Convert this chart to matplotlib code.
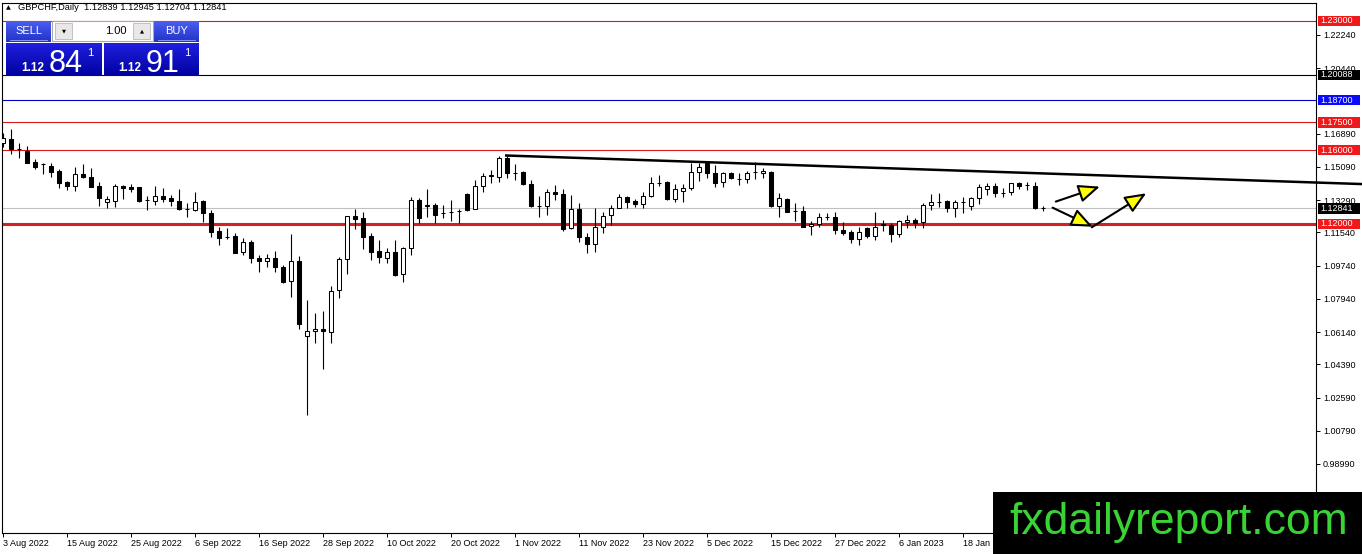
import numpy as np
import matplotlib
matplotlib.use("Agg")
import matplotlib.pyplot as plt
from matplotlib import transforms
from matplotlib.patches import Rectangle, FancyArrowPatch
from matplotlib.colors import LinearSegmentedColormap

plt.rcParams['font.family'] = ['Liberation Sans', 'DejaVu Sans']

# daily candles, GBPCHF
opens = [1.1638, 1.1660, 1.1606, 1.1595, 1.1536, 1.1525, 1.1514, 1.1487, 1.1427, 1.1406,
         1.1471, 1.1454, 1.1406, 1.1319, 1.1325, 1.1406, 1.1400, 1.1400, 1.1330, 1.1325,
         1.1352, 1.1341, 1.1325, 1.1281, 1.1276, 1.1325, 1.1259, 1.1162, 1.1129, 1.1135,
         1.1048, 1.1102, 1.1015, 1.0999, 1.1015, 1.0966, 1.0891, 1.0999, 1.0593, 1.0620,
         1.0631, 1.0614, 1.0842, 1.1010, 1.1243, 1.1232, 1.1135, 1.1053, 1.1015, 1.1048,
         1.0929, 1.1070, 1.1330, 1.1297, 1.1303, 1.1259, 1.1265, 1.1270, 1.1362, 1.1281,
         1.1406, 1.1460, 1.1454, 1.1557, 1.1476, 1.1481, 1.1417, 1.1297, 1.1297, 1.1373,
         1.1362, 1.1178, 1.1281, 1.1129, 1.1091, 1.1184, 1.1249, 1.1286, 1.1346, 1.1325,
         1.1308, 1.1352, 1.1422, 1.1427, 1.1335, 1.1379, 1.1395, 1.1481, 1.1530, 1.1476,
         1.1427, 1.1476, 1.1444, 1.1444, 1.1481, 1.1476, 1.1481, 1.1297, 1.1335, 1.1270,
         1.1270, 1.1189, 1.1200, 1.1238, 1.1238, 1.1167, 1.1157, 1.1118, 1.1178, 1.1135,
         1.1194, 1.1194, 1.1146, 1.1211, 1.1221, 1.1211, 1.1303, 1.1319, 1.1325, 1.1286,
         1.1319, 1.1297, 1.1341, 1.1390, 1.1406, 1.1368, 1.1373, 1.1422, 1.1411, 1.1406,
         1.12839]
highs = [1.1693, 1.1715, 1.1638, 1.1622, 1.1552, 1.1530, 1.1530, 1.1498, 1.1430, 1.1509,
         1.1525, 1.1503, 1.1427, 1.1352, 1.1417, 1.1411, 1.1417, 1.1402, 1.1352, 1.1406,
         1.1395, 1.1357, 1.1390, 1.1314, 1.1373, 1.1327, 1.1276, 1.1184, 1.1178, 1.1151,
         1.1124, 1.1113, 1.1032, 1.1037, 1.1053, 1.0977, 1.1146, 1.1026, 1.0788, 1.0717,
         1.0728, 1.0864, 1.1021, 1.1245, 1.1281, 1.1265, 1.1151, 1.1113, 1.1070, 1.1113,
         1.1075, 1.1346, 1.1341, 1.1390, 1.1314, 1.1303, 1.1330, 1.1281, 1.1365, 1.1438,
         1.1476, 1.1492, 1.1568, 1.1568, 1.1525, 1.1487, 1.1438, 1.1352, 1.1390, 1.1411,
         1.1390, 1.1357, 1.1314, 1.1151, 1.1286, 1.1265, 1.1303, 1.1362, 1.1352, 1.1335,
         1.1373, 1.1454, 1.1465, 1.1430, 1.1417, 1.1417, 1.1530, 1.1530, 1.1533, 1.1519,
         1.1481, 1.1481, 1.1476, 1.1487, 1.1536, 1.1503, 1.1487, 1.1368, 1.1341, 1.1314,
         1.1297, 1.1216, 1.1259, 1.1259, 1.1265, 1.1211, 1.1167, 1.1184, 1.1184, 1.1265,
         1.1221, 1.1205, 1.1221, 1.1249, 1.1232, 1.1314, 1.1362, 1.1368, 1.1330, 1.1330,
         1.1346, 1.1346, 1.1417, 1.1422, 1.1422, 1.1395, 1.1424, 1.1427, 1.1427, 1.1427,
         1.12945]
lows = [1.1617, 1.1579, 1.1557, 1.1528, 1.1498, 1.1471, 1.1454, 1.1395, 1.1384, 1.1379,
        1.1449, 1.1399, 1.1297, 1.1286, 1.1292, 1.1335, 1.1373, 1.1319, 1.1276, 1.1303,
        1.1319, 1.1297, 1.1276, 1.1238, 1.1270, 1.1211, 1.1129, 1.1086, 1.1118, 1.1040,
        1.1032, 1.0988, 1.0939, 1.0966, 1.0939, 1.0880, 1.0804, 1.0631, 1.0165, 1.0555,
        1.0414, 1.0555, 1.0799, 1.0929, 1.1173, 1.1064, 1.1005, 1.0988, 1.0988, 1.0918,
        1.0885, 1.1032, 1.1205, 1.1238, 1.1205, 1.1232, 1.1216, 1.1205, 1.1270, 1.1279,
        1.1373, 1.1422, 1.1427, 1.1449, 1.1438, 1.1411, 1.1292, 1.1238, 1.1249, 1.1330,
        1.1162, 1.1173, 1.1102, 1.1042, 1.1048, 1.1151, 1.1194, 1.1284, 1.1286, 1.1292,
        1.1286, 1.1346, 1.1406, 1.1330, 1.1319, 1.1319, 1.1384, 1.1433, 1.1449, 1.1400,
        1.1400, 1.1444, 1.1411, 1.1422, 1.1444, 1.1449, 1.1292, 1.1238, 1.1263, 1.1216,
        1.1182, 1.1140, 1.1184, 1.1221, 1.1146, 1.1140, 1.1097, 1.1086, 1.1124, 1.1113,
        1.1162, 1.1102, 1.1129, 1.1178, 1.1178, 1.1178, 1.1276, 1.1292, 1.1265, 1.1238,
        1.1259, 1.1276, 1.1308, 1.1357, 1.1346, 1.1346, 1.1357, 1.1390, 1.1384, 1.1280,
        1.12704]
closes = [1.1666, 1.1606, 1.1604, 1.1532, 1.1509, 1.1523, 1.1481, 1.1422, 1.1406, 1.1471,
          1.1454, 1.1402, 1.1341, 1.1335, 1.1406, 1.1395, 1.1389, 1.1325, 1.1328, 1.1352,
          1.1335, 1.1325, 1.1281, 1.1283, 1.1319, 1.1259, 1.1157, 1.1124, 1.1127, 1.1043,
          1.1102, 1.1015, 1.0999, 1.1015, 1.0966, 1.0885, 1.0999, 1.0658, 1.0620, 1.0631,
          1.0620, 1.0837, 1.1010, 1.1241, 1.1227, 1.1129, 1.1048, 1.1021, 1.1048, 1.0923,
          1.1070, 1.1330, 1.1232, 1.1300, 1.1249, 1.1257, 1.1263, 1.1268, 1.1276, 1.1406,
          1.1460, 1.1465, 1.1557, 1.1476, 1.1474, 1.1417, 1.1297, 1.1295, 1.1373, 1.1362,
          1.1173, 1.1281, 1.1129, 1.1091, 1.1184, 1.1243, 1.1286, 1.1346, 1.1319, 1.1308,
          1.1352, 1.1422, 1.1424, 1.1335, 1.1390, 1.1395, 1.1481, 1.1509, 1.1476, 1.1422,
          1.1476, 1.1449, 1.1446, 1.1476, 1.1479, 1.1487, 1.1297, 1.1341, 1.1265, 1.1268,
          1.1184, 1.1200, 1.1238, 1.1236, 1.1167, 1.1151, 1.1118, 1.1157, 1.1135, 1.1184,
          1.1200, 1.1146, 1.1216, 1.1221, 1.1205, 1.1303, 1.1319, 1.1321, 1.1286, 1.1319,
          1.1321, 1.1341, 1.1400, 1.1406, 1.1368, 1.1366, 1.1422, 1.1406, 1.1409, 1.1284,
          1.12841]

label_bars = [1, 9, 17, 25, 33, 41, 49, 57, 65, 73, 81, 89, 97, 105, 113, 121]
date_labels = ['3 Aug 2022', '15 Aug 2022', '25 Aug 2022', '6 Sep 2022', '16 Sep 2022',
               '28 Sep 2022', '10 Oct 2022', '20 Oct 2022', '1 Nov 2022', '11 Nov 2022',
               '23 Nov 2022', '5 Dec 2022', '15 Dec 2022', '27 Dec 2022', '6 Jan 2023',
               '18 Jan 2023']

# 1.18690 is fully hidden behind the blue tag in the terminal, so it is left out
price_ticks = [1.2224, 1.2044, 1.1689, 1.1509, 1.1329, 1.1154, 1.0974,
               1.0794, 1.0614, 1.0439, 1.0259, 1.0079, 0.9899]

level_prices = [1.23, 1.20088, 1.187, 1.175, 1.16, 1.12841, 1.12]
level_colors = ['#d81818', 'black', '#0000c8', '#d81818', '#d81818', '#c0c0c0', '#d42020']
level_widths = [0.8, 0.8, 0.8, 0.8, 0.8, 0.8, 2.2]
tag_colors = ['#f01818', 'black', '#0a0aff', '#f01818', '#f01818', 'black', '#f01818']

trend_bars = [63.75, 170.9]
trend_prices = [1.1571, 1.1416]

arrow_from = [(132.6, 1.1321), (132.2, 1.1288), (137.1, 1.1182)]
arrow_to = [(138.1, 1.1402), (137.2, 1.1185), (143.9, 1.1366)]

symbol = 'GBPCHF,Daily'
bid_big, ask_big = '84', '91'

W, H = 1362, 554
fig = plt.figure(figsize=(W / 100, H / 100), dpi=100)
ax = fig.add_axes([2 / W, 21 / H, 1314 / W, 530 / H])

o = np.array(opens)
h = np.array(highs)
l = np.array(lows)
c = np.array(closes)
bars = np.arange(1, len(o) + 1)
up = c >= o

for p, col, lw in zip(level_prices, level_colors, level_widths):
    ax.axhline(p, color=col, lw=lw, zorder=2)

ax.vlines(bars, l, h, color='black', lw=0.8, zorder=3)
ax.bar(bars, np.maximum(np.abs(c - o), 0.00005), bottom=np.minimum(o, c), width=0.62,
       color=np.where(up, 'white', 'black'), edgecolor='black', lw=0.75, zorder=4)

ax.plot(trend_bars, trend_prices, color='black', lw=1.8, clip_on=False, zorder=5,
        solid_capstyle='butt')

for a, b in zip(arrow_from, arrow_to):
    ax.add_patch(FancyArrowPatch(a, b, arrowstyle='-|>,head_length=13,head_width=5.5',
                                 fc='#ffff00', ec='black', lw=1.5, shrinkA=0, shrinkB=0,
                                 zorder=8))

ax.set_xlim(0.875, 165.125)
ax.set_ylim(0.95248, 1.23974)

for s in ax.spines.values():
    s.set_color('black')
    s.set_linewidth(0.8)

ax.yaxis.tick_right()
ax.set_yticks(price_ticks)
ax.set_yticklabels(['%.5f' % t for t in price_ticks])
ax.tick_params(axis='y', direction='out', length=3, width=0.7, pad=2, labelsize=6.5)
ax.set_xticks(label_bars)
ax.set_xticklabels(date_labels, ha='left')
ax.tick_params(axis='x', direction='out', length=3, width=0.7, pad=1.5, labelsize=6.5)

# coloured price tags on the right scale
trans = transforms.blended_transform_factory(ax.transAxes, ax.transData)
for p, col in zip(level_prices, tag_colors):
    ax.add_patch(Rectangle((1.0015, p - 0.0028), 0.032, 0.0056, transform=trans, fc=col,
                           ec='none', clip_on=False, zorder=6))
    ax.text(1.0032, p, '%.5f' % p, transform=trans, color='white', fontsize=6.5,
            va='center', ha='left', clip_on=False, zorder=7)

# overlay for the trade panel, header and watermark (pixel coords)
ov = fig.add_axes([0, 0, 1, 1], zorder=10)
ov.patch.set_alpha(0)


def grad(x0, y0, x1, y1, top, bot):
    cm = LinearSegmentedColormap.from_list('g', [top, bot])
    ov.imshow(np.linspace(0, 1, 64).reshape(-1, 1), cmap=cm, extent=(x0, x1, y1, y0),
              origin='upper', aspect='auto', zorder=1)


ov.text(6, 8, '\u25b2', fontsize=4.5, va='center', ha='left', family=['DejaVu Sans'])
ov.text(18, 8, '%s  %.5f %.5f %.5f %.5f' % (symbol, opens[-1], highs[-1], lows[-1], closes[-1]),
        fontsize=6.7, va='center', ha='left')

grad(6, 21, 51, 42, '#4a5ef0', '#2233c8')
grad(154, 21, 199, 42, '#4a5ef0', '#2233c8')
ov.plot([10, 47], [40, 40], color='#9aa8ff', lw=0.6)
ov.plot([158, 195], [40, 40], color='#9aa8ff', lw=0.6)
ov.text(28.5, 30.5, 'SELL', color='white', fontsize=8, ha='center', va='center')
ov.text(176.5, 30.5, 'BUY', color='white', fontsize=8, ha='center', va='center')
ov.add_patch(Rectangle((52, 21), 101, 20, fc='white', ec='#a8a8a8', lw=0.8))
ov.add_patch(Rectangle((55, 23), 17, 16, fc='#e8e8e8', ec='#b8b8b8', lw=0.6))
ov.add_patch(Rectangle((133, 23), 17, 16, fc='#e8e8e8', ec='#b8b8b8', lw=0.6))
ov.text(63.5, 31, '\u25bc', fontsize=3.8, ha='center', va='center', family=['DejaVu Sans'])
ov.text(141.5, 31, '\u25b2', fontsize=3.8, ha='center', va='center', family=['DejaVu Sans'])
ov.text(127, 31, '1.00', fontsize=8, ha='right', va='center')

grad(6, 43, 102, 76, '#2020e0', '#0000a0')
grad(104, 43, 199, 76, '#2020e0', '#0000a0')
for x0, big in [(21, bid_big), (118, ask_big)]:
    ov.text(x0, 71, '1.12', color='white', fontsize=8.5, fontweight='bold', va='baseline')
    ov.text(x0 + 28, 72, big, color='white', fontsize=22, va='baseline')
    ov.text(x0 + 66, 56, '1', color='white', fontsize=8, va='baseline')

ov.add_patch(Rectangle((993, 492), 369, 62, fc='black', ec='none', zorder=5))
ov.text(1009, 534, 'fxdailyreport.com', color='#3ad335', fontsize=32, va='baseline',
        ha='left', zorder=6)

ov.set_xlim(0, W)
ov.set_ylim(H, 0)
ov.axis('off')

fig.savefig('out.png', dpi=100)
